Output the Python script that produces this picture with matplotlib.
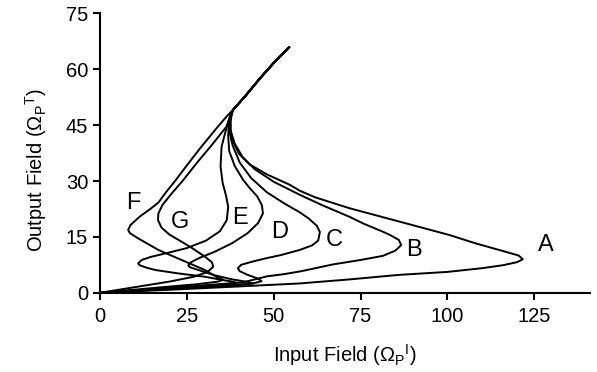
import matplotlib
matplotlib.use("Agg")
import matplotlib.pyplot as plt

# upper stable branch shared by every curve
top_x = [38.3, 42.0, 46.0, 50.0, 54.4]
top_y = [49.1, 53.0, 57.5, 61.7, 65.9]

a_x = [0, 20, 40, 57.5, 72, 86, 100, 110, 116, 120, 121.7, 120.5, 116, 108, 100.6,
       86.2, 71.8, 62, 57.5, 54.6, 48, 43, 40, 38.4, 37.6, 37.6, 37.9]
a_y = [0, 0.8, 1.7, 2.5, 3.6, 4.8, 5.6, 6.6, 7.4, 8.2, 9.0, 10.0, 11.2, 13.3, 15.5,
       19.1, 22.7, 25.6, 27.4, 29.0, 31.8, 34.5, 37.3, 40.5, 43.5, 46.0, 47.8]

b_x = [0, 20, 36, 42, 45.5, 48, 50.5, 53, 58, 67, 75, 81.4, 85, 86.7, 86, 83.5, 81.4,
       76, 71.8, 64, 57.5, 50, 44.5, 41, 38.8, 37.6, 37.5, 37.8]
b_y = [0, 1.1, 2.2, 3.0, 3.8, 4.4, 4.7, 5.0, 5.8, 7.6, 8.8, 9.9, 11.3, 12.8, 14.2, 15.5,
       16.4, 18.5, 20.4, 23.5, 26.3, 29.8, 33.2, 36.5, 40.0, 43.5, 46.0, 47.8]

c_x = [0, 20, 36, 44, 46.5, 45.5, 42.5, 40.2, 39.7, 40.6, 44, 48, 52, 57.5, 61, 62.8,
       63.3, 62.4, 60, 57.5, 53, 48, 43.5, 40.2, 38.2, 37.3, 37.3, 37.7]
c_y = [0, 1.0, 1.9, 2.5, 3.1, 3.8, 4.8, 5.8, 6.6, 7.5, 8.4, 9.3, 10.1, 11.5, 12.7, 14.0,
       16.3, 18.0, 20.0, 21.6, 24.0, 27.0, 30.8, 35.0, 39.5, 43.0, 45.8, 47.8]

d_x = [0, 20, 34, 41, 44, 42.5, 38, 33, 28.7, 26, 25.4, 26.2, 28.5, 33, 38, 42.5, 45.5,
       46.9, 46.6, 45.3, 43.2, 41.2, 38.8, 37.2, 36.9, 37.1, 37.6]
d_y = [0, 1.0, 1.8, 2.2, 2.5, 2.9, 3.6, 4.7, 6.0, 6.8, 7.3, 8.2, 9.3, 11.0, 13.3, 16.0,
       18.7, 21.3, 23.5, 25.8, 28.0, 30.3, 34.0, 38.0, 42.0, 45.5, 47.8]

e_x = [0, 18, 30, 37, 39, 37.5, 35.4, 30.2, 22.5, 16, 13.5, 11.4, 11, 12, 14.5, 19, 25,
       30.5, 34.5, 36.5, 36.9, 36.3, 35.3, 34.7, 35, 35.9, 36.8, 37.5]
e_y = [0, 1.2, 2.0, 2.5, 2.8, 3.1, 3.4, 4.3, 5.2, 6.1, 6.7, 7.4, 7.9, 8.8, 9.6, 10.6,
       12.0, 14.0, 16.5, 19.5, 23.1, 26.0, 29.5, 33.9, 39.2, 42.5, 45.5, 47.8]

f_x = [0, 18, 28, 34, 35.5, 34, 30.2, 23.5, 16.8, 11, 8.6, 8.1, 8.8, 11.5, 14.5, 16.8,
       19, 21.6, 25, 29, 33.4, 36.6]
f_y = [0, 1.5, 2.3, 3.0, 3.5, 4.0, 6.1, 8.8, 11.5, 14.6, 16.0, 16.9, 18.2, 20.5, 22.5,
       24.2, 27.0, 30.0, 34.2, 39.0, 44.0, 47.5]

g_x = [0, 10, 20, 27, 31, 32.6, 32.2, 30.2, 26.5, 23.5, 20, 17.7, 16.7, 16.8, 18, 20.5,
       24, 28, 32.3, 36.4]
g_y = [0, 1.5, 3.0, 4.3, 5.6, 7.0, 8.2, 9.7, 12.0, 13.7, 15.6, 17.5, 19.5, 21.3, 23.6,
       26.5, 30.3, 35.0, 39.8, 44.6]

curves = {
    "A": (a_x, a_y), "B": (b_x, b_y), "C": (c_x, c_y), "D": (d_x, d_y),
    "E": (e_x, e_y), "F": (f_x, f_y), "G": (g_x, g_y),
}
label_pos = {
    "A": (128.4, 12.8), "B": (90.5, 11.5), "C": (67.5, 14.2), "D": (51.7, 16.4),
    "E": (40.2, 20.0), "F": (9.6, 24.0), "G": (23.0, 19.1),
}

plt.rcParams.update({
    "font.family": "Liberation Sans",
    "mathtext.fontset": "custom",
    "mathtext.rm": "Liberation Sans",
    "mathtext.it": "Liberation Sans:italic",
})

fig = plt.figure(figsize=(5.97, 3.72), dpi=100)
ax = fig.add_axes([0.1675, 0.213, 0.8205, 0.751])

for name, (xs, ys) in curves.items():
    ax.plot(list(xs) + top_x, list(ys) + top_y, color="black", linewidth=1.4)
    lx, ly = label_pos[name]
    ax.text(lx, ly, name, fontsize=17, ha="center", va="center")

ax.set_xlim(0, 141)
ax.set_ylim(0, 75)
ax.set_xticks([0, 25, 50, 75, 100, 125])
ax.set_yticks([0, 15, 30, 45, 60, 75])
ax.tick_params(direction="out", length=5, width=1.5, labelsize=14.5)
ax.tick_params(axis="x", pad=5)
for side in ["top", "right"]:
    ax.spines[side].set_visible(False)
for side in ["left", "bottom"]:
    ax.spines[side].set_linewidth(1.5)

ax.set_xlabel(r"Input Field ($\Omega_{\mathrm{P}}{}^{\mathrm{I}}$)", fontsize=14.5, labelpad=12)
ax.set_ylabel(r"Output Field ($\Omega_{\mathrm{P}}{}^{\mathrm{T}}$)", fontsize=14.5)
ax.yaxis.set_label_coords(-0.105, 0.44)

fig.savefig("out.png", dpi=100)
